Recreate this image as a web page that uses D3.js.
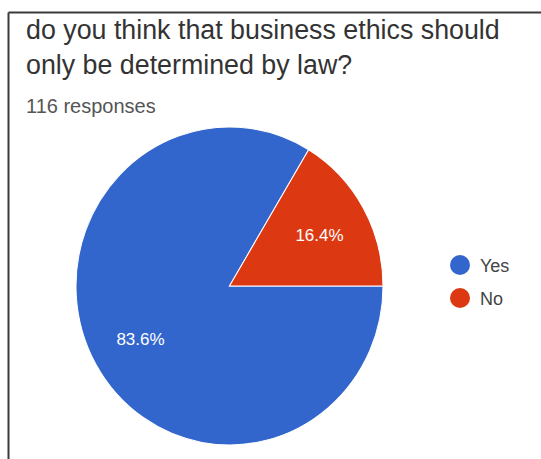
<!DOCTYPE html>
<html>
<head>
<meta charset="utf-8">
<script src="https://cdn.jsdelivr.net/npm/d3@7"></script>
<style>
  body { margin: 0; background: #fff; }
  svg { display: block; font-family: "Liberation Sans", Arial, sans-serif; }
</style>
</head>
<body>
<div id="chart"></div>
<script>
// chart data
var titleLines = ["do you think that business ethics should", "only be determined by law?"];
var subtitle = "116 responses";
var categories = ["Yes", "No"];
var counts = [97, 19];
var colors = ["#3366cc", "#dc3912"];

var width = 541, height = 459;

var svg = d3.select("#chart")
  .append("svg")
    .attr("width", width)
    .attr("height", height);

// frame (only top and left edges visible in the crop)
svg.append("line")
  .attr("x1", 8.5).attr("y1", 12.5).attr("x2", width).attr("y2", 12.5)
  .attr("stroke", "#3a3a3a").attr("stroke-width", 2);
svg.append("line")
  .attr("x1", 8.5).attr("y1", 12.5).attr("x2", 8.5).attr("y2", height)
  .attr("stroke", "#3a3a3a").attr("stroke-width", 2);

// title
svg.selectAll(".title")
  .data(titleLines)
  .enter()
  .append("text")
    .attr("class", "title")
    .attr("x", 26)
    .attr("y", (d, i) => 39 + i * 35)
    .style("font-size", "26.8px")
    .style("fill", "#333")
    .text(d => d);

svg.append("text")
  .attr("x", 26)
  .attr("y", 113)
  .style("font-size", "20px")
  .style("fill", "#555")
  .text(subtitle);

// pie
var cx = 229.5, cy = 286, rx = 153.5, ry = 159;
var total = d3.sum(counts);
var data = categories.map((c, i) => ({name: c, value: counts[i], color: colors[i]}));

var pie = d3.pie()
  .sort(null)
  .value(d => d.value)
  .startAngle(Math.PI / 2)
  .endAngle(Math.PI / 2 + 2 * Math.PI);

var arc = d3.arc().innerRadius(0).outerRadius(rx);

var g = svg.append("g")
  .attr("transform", "translate(" + cx + "," + cy + ") scale(1," + (ry / rx) + ")");

g.selectAll("path")
  .data(pie(data))
  .enter()
  .append("path")
    .attr("d", arc)
    .attr("fill", d => d.data.color)
    .attr("stroke", "#fff")
    .attr("stroke-width", 1);

// percent labels
svg.selectAll(".pct")
  .data(pie(data))
  .enter()
  .append("text")
    .attr("class", "pct")
    .attr("x", d => {
      if (d.data.name == "No") return cx + 90;
      return cx - 89;
    })
    .attr("y", d => {
      if (d.data.name == "No") return cy - 45;
      return cy + 59;
    })
    .attr("text-anchor", "middle")
    .style("font-size", "17px")
    .style("fill", "#fff")
    .text(d => (d.data.value / total * 100).toFixed(1) + "%");

// legend
var legend = svg.selectAll(".legend")
  .data(data)
  .enter()
  .append("g")
    .attr("class", "legend")
    .attr("transform", (d, i) => "translate(460," + (265 + i * 33) + ")");

legend.append("circle")
  .attr("r", 10)
  .style("fill", d => d.color);

legend.append("text")
  .attr("x", 20)
  .attr("y", 6.5)
  .style("font-size", "18px")
  .style("fill", "#444")
  .text(d => d.name);
</script>
</body>
</html>
